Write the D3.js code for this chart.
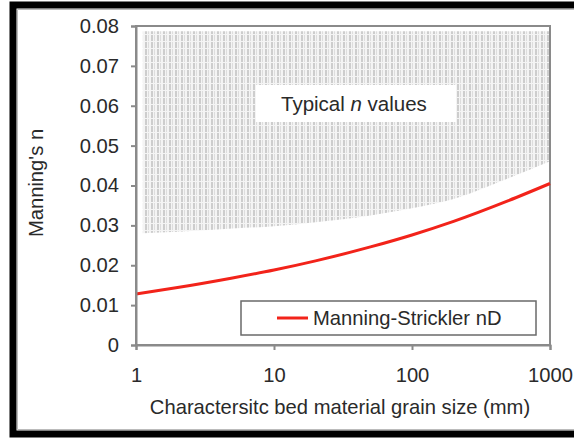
<!DOCTYPE html>
<html>
<head>
<meta charset="utf-8">
<script src="https://cdn.jsdelivr.net/npm/d3@7"></script>
<style>
  body { margin: 0; background: #fff; }
  text { font-family: "Liberation Sans", Arial, sans-serif; fill: #2a2a2a; }
</style>
</head>
<body>
<div id="chart"></div>
<script>
// grain size (mm) and Manning-Strickler n
const grainSize = [1, 2, 5, 10, 20, 50, 100, 200, 500, 1000];
const manningStrickler = [0.0128, 0.0144, 0.0168, 0.0188, 0.0211, 0.0246, 0.0276, 0.0310, 0.0362, 0.0405];

// lower edge of the "typical n values" band
const shadeSize = [1.12, 2, 5, 10, 20, 50, 100, 200, 500, 990];
const shadeLower = [0.0280, 0.0284, 0.0292, 0.0298, 0.0308, 0.0325, 0.0343, 0.0366, 0.0418, 0.0460];
const shadeTop = 0.0787;

const xTicks = [1, 10, 100, 1000];
const yTicks = [0, 0.01, 0.02, 0.03, 0.04, 0.05, 0.06, 0.07, 0.08];

const dim = { width: 574, height: 438, left: 136, right: 550, top: 26, bottom: 345 };
const fontSize = '20.2px';

const svg = d3.select('#chart')
    .append('svg')
        .attr('width', dim.width)
        .attr('height', dim.height);

// outer black frame (left, top, bottom)
svg.append('path')
    .attr('d', `M 620 5 L 13 5 L 13 434 L 620 434`)
    .attr('fill', 'none')
    .attr('stroke', '#000')
    .attr('stroke-width', 7);
svg.append('path')
    .attr('d', `M 620 9.5 L 17.5 9.5 L 17.5 429.5 L 620 429.5`)
    .attr('fill', 'none')
    .attr('stroke', '#bbb')
    .attr('stroke-width', 1);

const x = d3.scaleLog()
    .domain([1, 1000])
    .range([dim.left, dim.right]);

const y = d3.scaleLinear()
    .domain([0, 0.08])
    .range([dim.bottom, dim.top]);

// dotted fill pattern
const defs = svg.append('defs');
const pat = defs.append('pattern')
    .attr('id', 'dots')
    .attr('patternUnits', 'userSpaceOnUse')
    .attr('width', 6)
    .attr('height', 7);
pat.append('rect').attr('width', 6).attr('height', 7).attr('fill', '#f4f4f4');
pat.append('rect').attr('x', 1).attr('width', 2).attr('height', 6).attr('fill', '#cdcdcd');
pat.append('rect').attr('x', 4).attr('width', 1).attr('height', 6).attr('fill', '#dddddd');

const shadeData = shadeSize.map((d, i) => ({ size: d, low: shadeLower[i] }));
svg.append('path')
    .datum(shadeData)
    .attr('fill', 'url(#dots)')
    .attr('d', d3.area()
        .x(d => x(d.size))
        .y0(d => y(d.low))
        .y1(() => y(shadeTop))
        .curve(d3.curveMonotoneX)
    );

// label box inside the band
svg.append('rect')
    .attr('x', 256)
    .attr('y', 85)
    .attr('width', 200)
    .attr('height', 37)
    .attr('fill', '#fff');

const typ = svg.append('text')
    .attr('x', 281)
    .attr('y', 111)
    .attr('font-size', '20.5px');
typ.append('tspan').text('Typical ');
typ.append('tspan').attr('font-style', 'italic').text('n');
typ.append('tspan').text(' values');

// plot frame
svg.append('rect')
    .attr('x', dim.left)
    .attr('y', dim.top)
    .attr('width', dim.right - dim.left)
    .attr('height', dim.bottom - dim.top)
    .attr('fill', 'none')
    .attr('stroke', '#8a8a8a')
    .attr('stroke-width', 2);

// Manning-Strickler curve
const lineData = grainSize.map((d, i) => ({ size: d, n: manningStrickler[i] }));
svg.append('path')
    .datum(lineData)
    .attr('fill', 'none')
    .attr('stroke', '#f2231a')
    .attr('stroke-width', 3)
    .attr('d', d3.line()
        .x(d => x(d.size))
        .y(d => y(d.n))
        .curve(d3.curveMonotoneX)
    );

// axes
const yAxis = svg.append('g')
    .attr('transform', `translate(${dim.left}, 0)`)
    .call(d3.axisLeft(y)
        .tickValues(yTicks)
        .tickSize(5)
        .tickPadding(12)
        .tickFormat(d => d === 0 ? '0' : d.toFixed(2)));

const xAxis = svg.append('g')
    .attr('transform', `translate(0, ${dim.bottom})`)
    .call(d3.axisBottom(x)
        .tickValues(xTicks)
        .tickSize(5)
        .tickPadding(18)
        .tickFormat(d3.format('d')));

[yAxis, xAxis].forEach(a => {
    a.select('.domain').attr('stroke', '#8a8a8a').attr('stroke-width', 2);
    a.selectAll('.tick line').attr('stroke', '#8a8a8a').attr('stroke-width', 2);
    a.selectAll('.tick text')
        .attr('font-size', fontSize)
        .attr('font-family', '"Liberation Sans", Arial, sans-serif')
        .attr('fill', '#2a2a2a');
});

// axis titles
svg.append('text')
    .attr('x', 340)
    .attr('y', 414)
    .attr('text-anchor', 'middle')
    .attr('font-size', fontSize)
    .text('Charactersitc bed material grain size (mm)');

svg.append('text')
    .attr('transform', 'translate(43, 183) rotate(-90)')
    .attr('text-anchor', 'middle')
    .attr('font-size', fontSize)
    .text("Manning's n");

// legend
const legend = svg.append('g');
legend.append('rect')
    .attr('x', 241)
    .attr('y', 301)
    .attr('width', 295)
    .attr('height', 34)
    .attr('fill', '#fff')
    .attr('stroke', '#6a6a6a')
    .attr('stroke-width', 1.5);
legend.append('line')
    .attr('x1', 277)
    .attr('x2', 308)
    .attr('y1', 318)
    .attr('y2', 318)
    .attr('stroke', '#f2231a')
    .attr('stroke-width', 3);
legend.append('text')
    .attr('x', 313)
    .attr('y', 325)
    .attr('font-size', fontSize)
    .text('Manning-Strickler nD');
</script>
</body>
</html>
